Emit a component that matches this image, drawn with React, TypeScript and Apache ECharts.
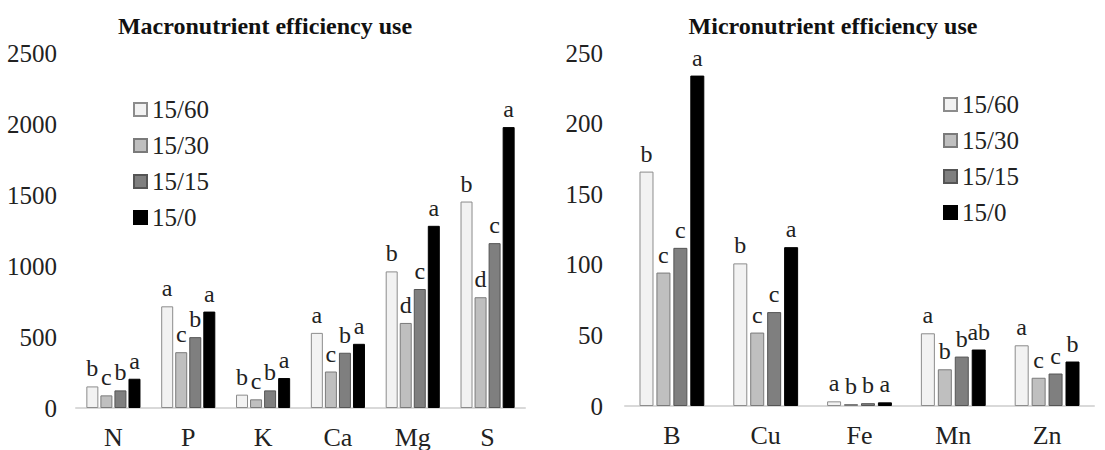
import React, { useEffect, useRef } from "react";
import * as echarts from "echarts";

const macroCategories = ["N", "P", "K", "Ca", "Mg", "S"];
const macro1560 = [152, 716, 94, 529, 962, 1454];
const macro1530 = [89, 393, 61, 257, 599, 780];
const macro1515 = [124, 499, 124, 389, 838, 1161];
const macro150 = [206, 679, 211, 452, 1283, 1978];
const macroLetters1560 = ["b", "a", "b", "a", "b", "b"];
const macroLetters1530 = ["c", "c", "c", "c", "d", "d"];
const macroLetters1515 = ["b", "b", "b", "b", "c", "c"];
const macroLetters150 = ["a", "a", "a", "a", "a", "a"];

const microCategories = ["B", "Cu", "Fe", "Mn", "Zn"];
const micro1560 = [166, 101, 3.3, 51.5, 43];
const micro1530 = [94.5, 52, 1.4, 26, 20];
const micro1515 = [112, 66.5, 2, 35, 23];
const micro150 = [234, 112.5, 2.6, 40, 31.5];
const microLetters1560 = ["b", "b", "a", "a", "a"];
const microLetters1530 = ["c", "c", "b", "b", "c"];
const microLetters1515 = ["c", "c", "b", "b", "c"];
const microLetters150 = ["a", "a", "a", "ab", "b"];

const seriesNames = ["15/60", "15/30", "15/15", "15/0"];
const macroTicks = [0, 500, 1000, 1500, 2000, 2500];
const microTicks = [0, 50, 100, 150, 200, 250];

const FONT = "Liberation Serif";
const fills = ["#f2f2f2", "#bfbfbf", "#7f7f7f", "#000000"];
const borders = ["#8c8c8c", "#7a7a7a", "#555555", "#000000"];

export default function App() {
  const ref = useRef<HTMLDivElement>(null);
  useEffect(() => {
    document.body.style.margin = "0";
    if (!ref.current) return;
    const chart = echarts.init(ref.current, null, { renderer: "svg" });

    const macroVals = [macro1560, macro1530, macro1515, macro150];
    const macroLet = [macroLetters1560, macroLetters1530, macroLetters1515, macroLetters150];
    const microVals = [micro1560, micro1530, micro1515, micro150];
    const microLet = [microLetters1560, microLetters1530, microLetters1515, microLetters150];

    const mkSeries = (vals: number[][], lets: string[][], idx: number, bw: number, gap: string) =>
      seriesNames.map((name, i) => ({
        type: "bar",
        name,
        xAxisIndex: idx,
        yAxisIndex: idx,
        barWidth: bw,
        barGap: gap,
        itemStyle: { color: fills[i], borderColor: borders[i], borderWidth: 1 },
        label: {
          show: true,
          position: "top",
          distance: 6,
          fontFamily: FONT,
          fontSize: 24,
          color: "#222",
          formatter: (p: any) => lets[i][p.dataIndex],
        },
        data: vals[i],
      }));

    const yAxisBase = (max: number, interval: number, margin: number) => ({
      type: "value",
      min: 0,
      max,
      interval,
      axisLine: { show: false },
      axisTick: { show: false },
      splitLine: { show: false },
      axisLabel: {
        fontFamily: FONT,
        fontSize: 25,
        color: "#222",
        margin,
        formatter: (v: number) => String(v),
      },
    });

    const xAxisBase = (cats: string[]) => ({
      type: "category",
      data: cats,
      axisLine: { show: true, lineStyle: { color: "#d9d9d9", width: 2 } },
      axisTick: { show: false },
      axisLabel: { fontFamily: FONT, fontSize: 26, color: "#222", margin: 16 },
    });

    const legendBase = (left: number, top: number) => ({
      orient: "vertical",
      left,
      top,
      itemWidth: 13,
      itemHeight: 13,
      itemGap: 11,
      icon: "rect",
      data: seriesNames,
      textStyle: { fontFamily: FONT, fontSize: 25, color: "#222" },
    });

    chart.setOption({
      animation: false,
      backgroundColor: "#ffffff",
      textStyle: { fontFamily: FONT },
      title: [
        {
          text: "Macronutrient efficiency use",
          left: 260,
          top: 9,
          textAlign: "center",
          textStyle: { fontFamily: FONT, fontSize: 24, fontWeight: "bold", color: "#111" },
        },
        {
          text: "Micronutrient efficiency use",
          left: 828,
          top: 9,
          textAlign: "center",
          textStyle: { fontFamily: FONT, fontSize: 24, fontWeight: "bold", color: "#111" },
        },
      ],
      legend: [legendBase(128, 92), legendBase(938, 87)],
      grid: [
        { left: 76, top: 53, width: 449, height: 356 },
        { left: 625, top: 53, width: 469, height: 353 },
      ],
      xAxis: [
        { ...xAxisBase(macroCategories), gridIndex: 0 },
        { ...xAxisBase(microCategories), gridIndex: 1 },
      ],
      yAxis: [
        { ...yAxisBase(macroTicks[macroTicks.length - 1], macroTicks[1] - macroTicks[0], 19), gridIndex: 0 },
        { ...yAxisBase(microTicks[microTicks.length - 1], microTicks[1] - microTicks[0], 22), gridIndex: 1 },
      ],
      series: [
        ...mkSeries(macroVals, macroLet, 0, 12, "17%"),
        ...mkSeries(microVals, microLet, 1, 14, "21%"),
      ],
    });
    return () => chart.dispose();
  }, []);
  return <div ref={ref} style={{ width: 1105, height: 450 }} />;
}
